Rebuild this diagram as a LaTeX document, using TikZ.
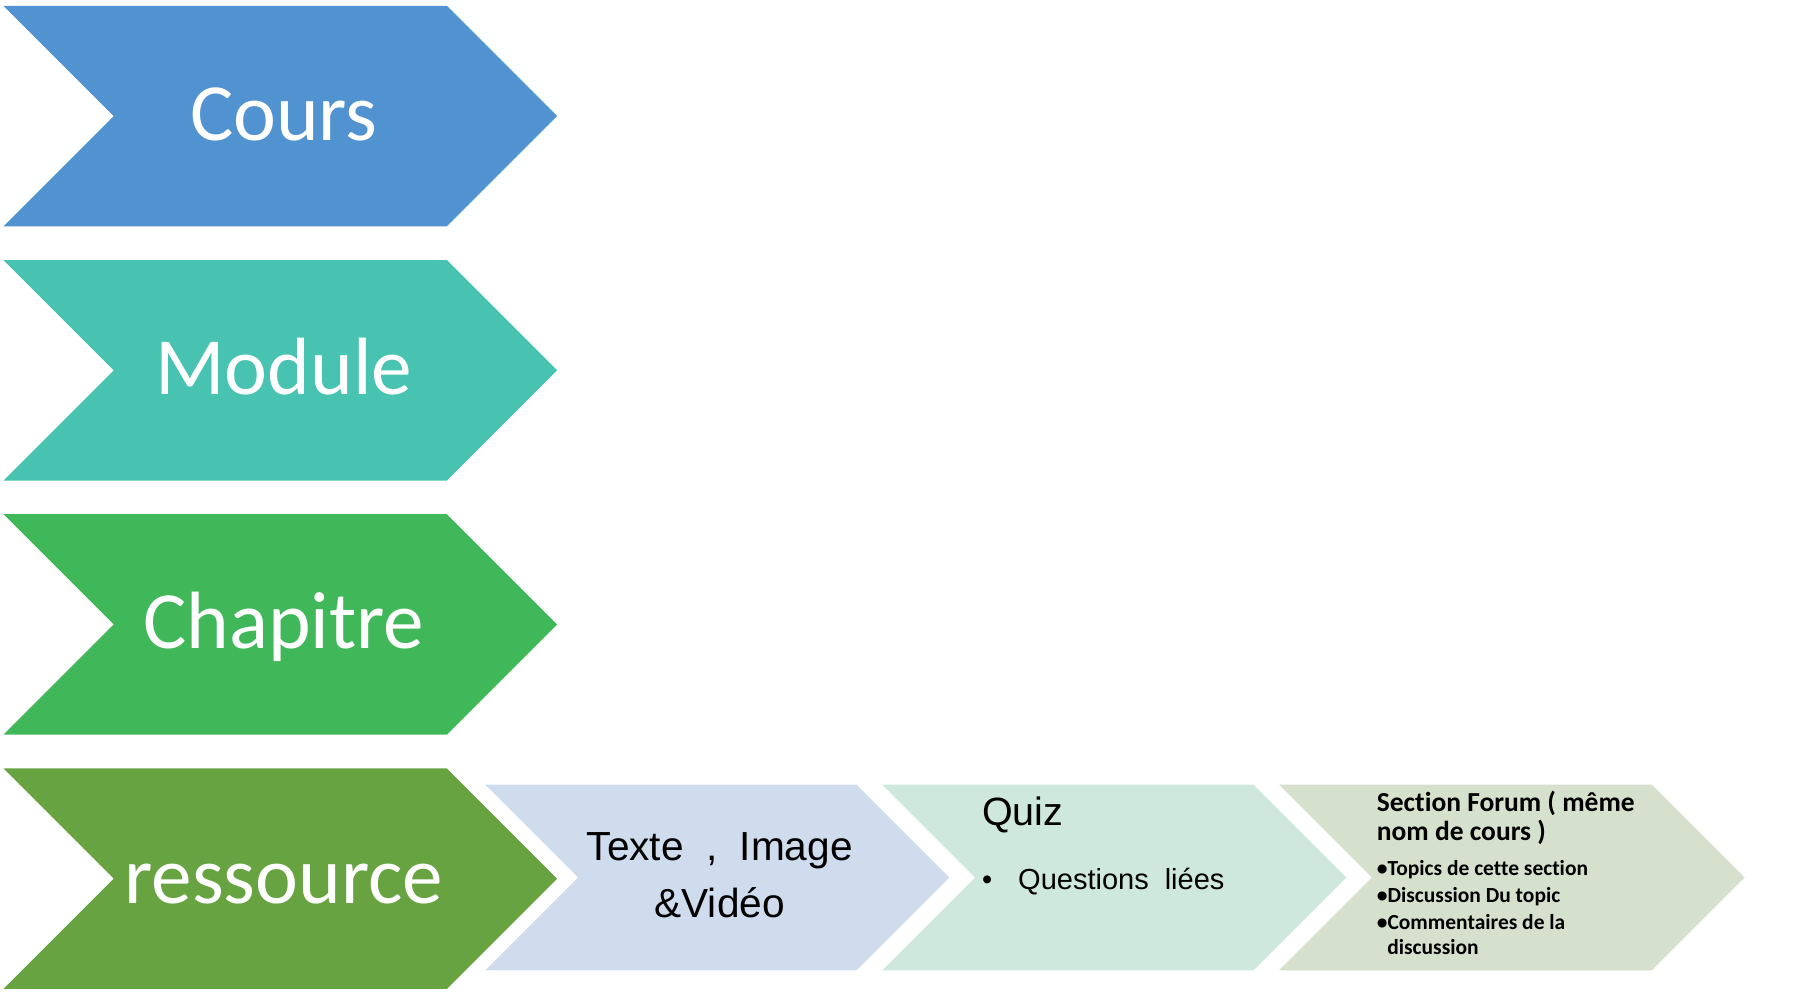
\documentclass[tikz,border=0pt]{standalone}
\usepackage{fontspec}
\setmainfont{Carlito}
\newfontfamily\labelfont[Ligatures=NoCommon]{Carlito}
\newfontfamily\bodyfont{Liberation Sans}

\definecolor{coursblue}{HTML}{5192D0}
\definecolor{moduleteal}{HTML}{48C3B1}
\definecolor{chapgreen}{HTML}{40B85A}
\definecolor{resgreen}{HTML}{67A340}
\definecolor{texteblue}{HTML}{CFDCEE}
\definecolor{quizmint}{HTML}{CFE8DE}
\definecolor{forumsage}{HTML}{D5E1CD}

% chevron: left x, top y, straight length, half height, colour
\newcommand\chevshape[5]{%
  \fill[#5] (#1,#2) -- ++(#3,0) -- ++(#4,#4) -- ++(-#4,#4) -- ++(-#3,0) -- ++(#4,-#4) -- cycle;}

\tikzset{
  biglabel/.style={anchor=base, inner sep=0pt, text=white,
    font=\labelfont\fontsize{70}{84}\selectfont},
  mediatext/.style={anchor=base, inner sep=0pt, text=black,
    font=\bodyfont\fontsize{35}{42}\selectfont},
  quiztitle/.style={anchor=base west, inner sep=0pt, text=black,
    font=\bodyfont\fontsize{34}{40}\selectfont},
  quizitem/.style={anchor=base west, inner sep=0pt, text=black,
    font=\bodyfont\fontsize{25}{30}\selectfont},
  forumtitle/.style={anchor=base west, inner sep=0pt, text=black,
    font=\labelfont\bfseries\fontsize{23.7}{28}\selectfont},
  forumitem/.style={anchor=base west, inner sep=0pt, text=black,
    font=\labelfont\bfseries\fontsize{18.5}{22}\selectfont},
}

\begin{document}
\begin{tikzpicture}[x=1pt, y=-1pt]
  \fill[white] (0,0) rectangle (1568,856);
  \useasboundingbox (0,0) rectangle (1568,856);

  % hierarchy column
  \chevshape{3}{5}{382}{95}{coursblue}
  \chevshape{3}{224}{382}{95}{moduleteal}
  \chevshape{3}{443}{382}{95}{chapgreen}
  \chevshape{3}{662}{382}{95}{resgreen}

  \node[biglabel] (cours)     at (244.5,121) {Cours};
  \node[biglabel] (module)    at (244.5,340) {Module};
  \node[biglabel] (chapitre)  at (244.5,559) {Chapitre};
  \node[biglabel] (ressource) at (244.5,778) {ressource};

  % resource contents
  \chevshape{418}{676}{320}{80}{texteblue}
  \chevshape{760}{676}{320}{80}{quizmint}
  \chevshape{1102}{676}{321}{80}{forumsage}

  \node[mediatext] (media1) at (620,741) {Texte\hspace{0.55em},\hspace{0.55em}Image};
  \node[mediatext] (media2) at (620,790.5) {\&Vidéo};

  \node[quiztitle] (quiz) at (846,711) {Quiz};
  \node[quizitem] (quizbullet) at (846,766) {•};
  \node[quizitem] (quizq) at (877,766) {Questions\hspace{0.55em}liées};

  \node[forumtitle] (forum1) at (1186,699) {Section Forum ( même};
  \node[forumtitle] (forum2) at (1186,724) {nom de cours )};
  \node[forumitem] (topics)  at (1186,754) {•Topics de cette section};
  \node[forumitem] (discus)  at (1186,777.5) {•Discussion Du topic};
  \node[forumitem] (comm)    at (1186,801) {•Commentaires de la};
  \node[forumitem] (comm2)   at (1195,822) {discussion};
\end{tikzpicture}
\end{document}
